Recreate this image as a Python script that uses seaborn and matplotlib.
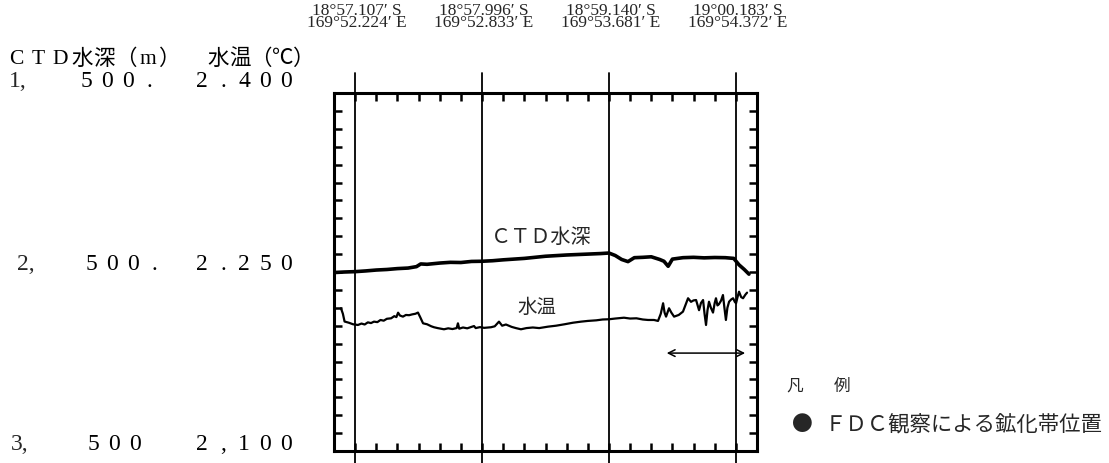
import matplotlib
matplotlib.use("Agg")
import matplotlib.pyplot as plt
import numpy as np
import pandas as pd
import seaborn as sns

# ---- data -------------------------------------------------------------
# position along the tow line (one unit = one tick), CTD depth in metres
depth_x = [0.0, 0.5, 1.0, 1.5, 2.0, 2.5, 3.0, 3.5, 3.9, 4.1, 4.4, 5.0, 5.5,
           6.0, 6.5, 7.0, 7.5, 8.0, 9.0, 10.0, 11.0, 12.0, 12.6, 13.0, 13.3,
           13.6, 13.9, 14.2, 14.6, 15.0, 15.4, 15.6, 15.8, 16.0, 16.5, 17.0,
           17.5, 18.0, 18.5, 18.9, 19.15, 19.4, 19.62]
depth_m = [2503, 2500, 2498, 2494, 2489, 2486, 2481, 2478, 2470, 2455, 2457,
           2450, 2446, 2447, 2441, 2440, 2437, 2432, 2424, 2412, 2405, 2400,
           2397, 2394, 2408, 2430, 2442, 2420, 2418, 2415, 2430, 2440, 2468,
           2428, 2420, 2418, 2421, 2419, 2420, 2424, 2460, 2486, 2512]

# water temperature (deg C)
temp_x = [0.33, 0.42, 0.50, 0.70, 0.90, 1.13, 1.30, 1.45, 1.60, 1.75, 1.89,
          2.05, 2.20, 2.35, 2.50, 2.70, 2.85, 2.95, 3.03, 3.12, 3.26, 3.40,
          3.55, 3.70, 3.85, 3.97, 4.08, 4.21, 4.40, 4.60, 4.73, 4.90, 5.05,
          5.20, 5.40, 5.60, 5.80, 5.86, 5.92, 6.10, 6.30, 6.50, 6.62, 6.70,
          6.90, 7.10, 7.42, 7.60, 7.80, 7.95, 8.13, 8.40, 8.60, 8.84, 9.10,
          9.40, 9.70, 10.12, 10.50, 10.90, 11.30, 11.68, 12.00, 12.40, 12.70,
          13.00, 13.30, 13.71, 14.00, 14.30, 14.60, 14.85, 15.13, 15.32, 15.45,
          15.56, 15.63, 15.70, 15.84, 15.95, 16.08, 16.30, 16.50, 16.74, 16.88,
          17.00, 17.12, 17.26, 17.35, 17.45, 17.52, 17.59, 17.66, 17.73, 17.82,
          17.92, 18.00, 18.06, 18.13, 18.20, 18.30, 18.39, 18.46, 18.53, 18.60,
          18.68, 18.78, 18.87, 18.95, 19.01, 19.08, 19.15, 19.25, 19.34, 19.45,
          19.53]
temp_c = [2.2196, 2.2150, 2.2085, 2.2075, 2.2062, 2.2056, 2.2068, 2.2060,
          2.2078, 2.2072, 2.2084, 2.2080, 2.2098, 2.2092, 2.2108, 2.2112,
          2.2130, 2.2122, 2.2159, 2.2135, 2.2126, 2.2140, 2.2138, 2.2145,
          2.2150, 2.2160, 2.2120, 2.2070, 2.2062, 2.2045, 2.2037, 2.2030,
          2.2025, 2.2020, 2.2028, 2.2022, 2.2030, 2.2070, 2.2025, 2.2035,
          2.2028, 2.2040, 2.2047, 2.2030, 2.2038, 2.2032, 2.2037, 2.2045,
          2.2084, 2.2050, 2.2060, 2.2040, 2.2030, 2.2020, 2.2030, 2.2035,
          2.2030, 2.2042, 2.2050, 2.2062, 2.2075, 2.2084, 2.2090, 2.2095,
          2.2102, 2.2104, 2.2110, 2.2117, 2.2110, 2.2112, 2.2102, 2.2098,
          2.2098, 2.2090, 2.2150, 2.2238, 2.2160, 2.2126, 2.2196, 2.2160,
          2.2126, 2.2140, 2.2168, 2.2280, 2.2250, 2.2262, 2.2265, 2.2180,
          2.2240, 2.2265, 2.2150, 2.2056, 2.2180, 2.2251, 2.2200, 2.2160,
          2.2240, 2.2280, 2.2220, 2.2230, 2.2260, 2.2307, 2.2200, 2.2098,
          2.2200, 2.2251, 2.2270, 2.2280, 2.2250, 2.2238, 2.2290, 2.2335,
          2.2290, 2.2280, 2.2310, 2.2327]

# sampling stations (tick positions) and their coordinates
station_x = [1.0, 7.0, 13.0, 19.0]
station_lat = ["18°57.107′ S", "18°57.996′ S", "18°59.140′ S", "19°00.183′ S"]
station_lon = ["169°52.224′ E", "169°52.833′ E", "169°53.681′ E", "169°54.372′ E"]

# mineralised zone seen by the FDC camera
zone_x = [15.6, 19.57]

# scale labels: depth (m) and temperature (deg C)
scale_depth = ["500.", "500.", "500"]
scale_thousands = ["1,", "2,", "3,"]
scale_temp = ["2.400", "2.250", "2,100"]

# ---- figure -----------------------------------------------------------
W, H = 1109, 463
sns.set_style("white")
plt.rcParams["font.family"] = ["Liberation Serif", "Noto Sans CJK JP", "DejaVu Serif"]
FAM = ["Liberation Serif", "Noto Sans CJK JP", "DejaVu Serif"]
CJK = ["Noto Sans CJK JP", "DejaVu Sans"]

fig = plt.figure(figsize=(W / 100, H / 100), dpi=100)
fig.patch.set_facecolor("white")
ax = fig.add_axes([334 / W, 1 - 451 / H, 423 / W, 358 / H])


def fpos(x, y):
    return x / W, 1 - y / H


def cells(x0, y, text, step, size, family=FAM):
    """Write text one character per fixed-width cell (full-width style)."""
    for i, ch in enumerate(text):
        if ch == " ":
            continue
        fig.text(*fpos(x0 + i * step, y), ch, ha="center", va="center",
                 fontsize=size, family=family, color="black")


# series
df_depth = pd.DataFrame({"x": depth_x, "depth": depth_m})
df_temp = pd.DataFrame({"x": temp_x, "temp": temp_c})

sns.lineplot(data=df_depth, x="x", y="depth", ax=ax, color="black",
             linewidth=2.6, estimator=None, sort=False)
ax.set_xlim(0, 20)
ax.set_ylim(3500, 1500)

ax2 = ax.twinx()
sns.lineplot(data=df_temp, x="x", y="temp", ax=ax2, color="black",
             linewidth=1.6, estimator=None, sort=False)
ax2.set_ylim(2.1, 2.4)
ax2.set_xlim(0, 20)
ax2.set_yticks([])
ax2.set_ylabel("")
for s in ax2.spines.values():
    s.set_visible(False)

# frame and inward ticks
for s in ax.spines.values():
    s.set_visible(True)
    s.set_linewidth(2.2)
    s.set_color("black")
ax.set_xticks(np.arange(0, 21, 1))
ax.set_yticks(np.arange(1500, 3501, 100))
ax.tick_params(axis="both", which="both", direction="in", length=6, width=1.8,
               top=True, bottom=True, left=True, right=True,
               labelbottom=False, labelleft=False, labeltop=False,
               labelright=False, color="black")
ax.set_xlabel("")
ax.set_ylabel("")

# station lines crossing the frame
for sx in station_x:
    ax.axvline(sx, ymin=-0.04, ymax=1.056, color="black", linewidth=1.3,
               clip_on=False, zorder=3)

# curve labels
ax.text(9.8, 2305, "ＣＴＤ水深", ha="center", va="center", fontsize=14.5,
        family=CJK)
ax.text(9.6, 2700, "水温", ha="center", va="center", fontsize=14,
        family=CJK)

# mineralised-zone extent
ax.annotate("", xy=(zone_x[0], 2953), xytext=(zone_x[1], 2953),
            arrowprops=dict(arrowstyle="<->", color="black", lw=1.1,
                            mutation_scale=12))

# station coordinates above the frame (latitude over longitude)
for sx, la, lo in zip(station_x, station_lat, station_lon):
    xp = 334 + sx * 423 / 20
    fig.text(*fpos(xp + 2, 17), la + "\n" + lo, ha="center", va="center",
             multialignment="center", fontsize=12.5, linespacing=0.72,
             family=FAM)

# axis headings
cells(16, 60, "CTD水深（m）", 22, 15.5)
cells(218, 60, "水温（℃）", 21.5, 15.5)

# scale values at top, middle and bottom of the frame
rows_y = [82, 265, 445]
thousands_x = [9, 17, 11]
depth_x0 = [86, 91, 93]
for ty, tx, th, dv, dx0, tv in zip(rows_y, thousands_x, scale_thousands,
                                   scale_depth, depth_x0, scale_temp):
    fig.text(*fpos(tx, ty), th, ha="left", va="center", fontsize=17,
             family=FAM)
    cells(dx0, ty, dv, 21, 17)
    cells(202, ty, tv, 21, 17)

# legend
fig.text(*fpos(795, 386), "凡", ha="center", va="center", fontsize=12,
         family=CJK)
fig.text(*fpos(842, 386), "例", ha="center", va="center", fontsize=12,
         family=CJK)
fig.text(*fpos(802, 425), "●", ha="center", va="center", fontsize=15,
         family=CJK)
fig.text(*fpos(825, 425), "ＦＤＣ観察による鉱化帯位置", ha="left", va="center",
         fontsize=15.4, family=CJK)

fig.savefig("out.png", dpi=100, facecolor="white")
